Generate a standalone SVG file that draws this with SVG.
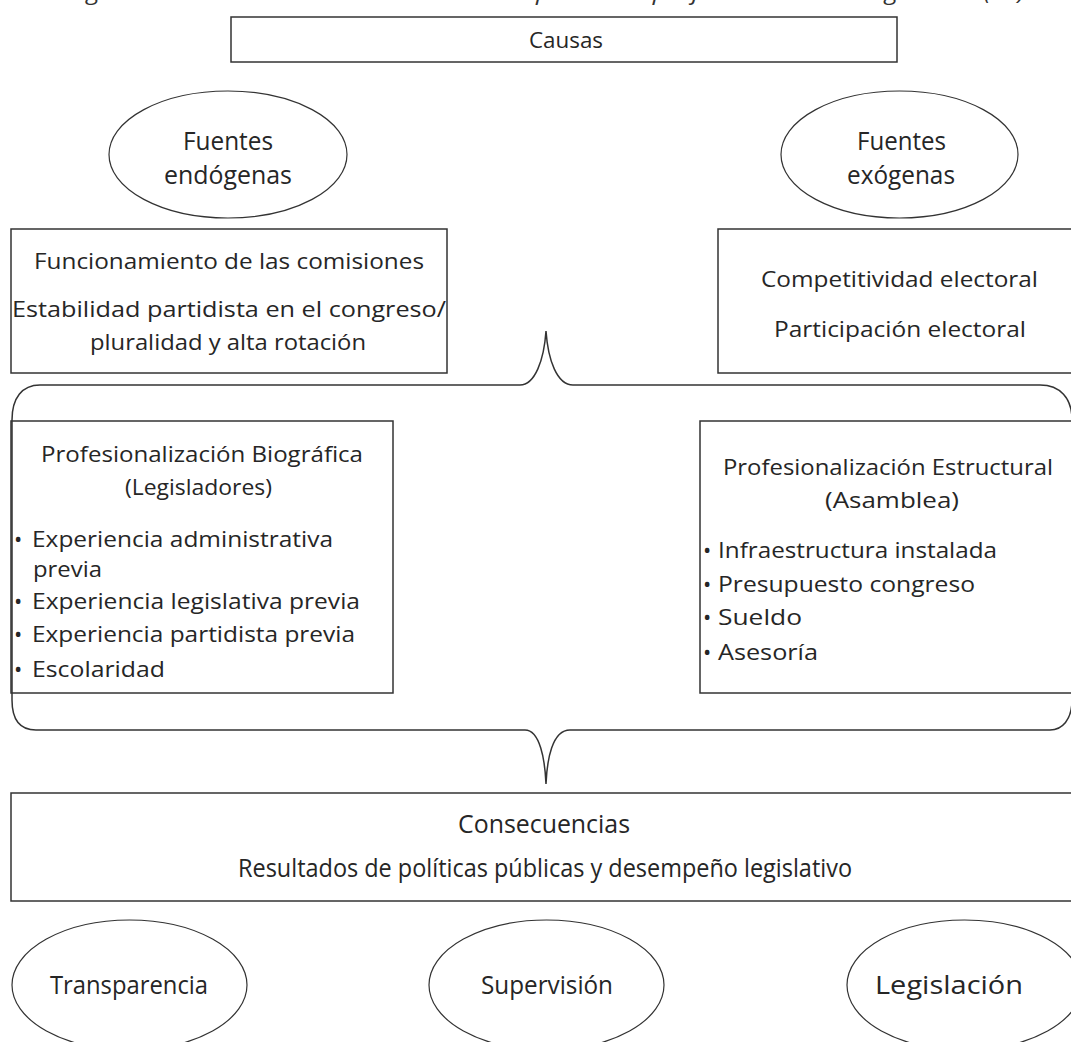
<svg xmlns="http://www.w3.org/2000/svg" width="1071" height="1042" viewBox="0 0 1071 1042">
<style>
.bx{fill:none;stroke:#333;stroke-width:1.5}
.el{fill:none;stroke:#333;stroke-width:1.2}
.br{fill:none;stroke:#333;stroke-width:1.5}
text{font-family:"Open Sans","Noto Sans",sans-serif;font-size:22px;fill:#262626}
.cn{font-size:25px}
.cap{font-style:italic;fill:#333}
</style>
<rect width="1071" height="1042" fill="#fff"/>
<text class="cap" x="68" y="0" textLength="957" lengthAdjust="spacingAndGlyphs">Figura 1. Modelo dinámico de marco compuesto de profesionalización legislativa (PL)</text>

<g id="causas">
<rect class="bx" x="231" y="17" width="666" height="45"/>
<text x="529" y="48" textLength="74" lengthAdjust="spacingAndGlyphs">Causas</text>
</g>

<g id="endogenas">
<ellipse class="el" cx="228" cy="154.5" rx="119" ry="63.5"/>
<text class="cn" x="183" y="150" textLength="90" lengthAdjust="spacingAndGlyphs">Fuentes</text>
<text class="cn" x="164" y="184" textLength="128" lengthAdjust="spacingAndGlyphs">endógenas</text>
</g>

<g id="exogenas">
<ellipse class="el" cx="899.5" cy="154.5" rx="118.5" ry="63.5"/>
<text class="cn" x="857" y="150" textLength="89" lengthAdjust="spacingAndGlyphs">Fuentes</text>
<text class="cn" x="847" y="184" textLength="108" lengthAdjust="spacingAndGlyphs">exógenas</text>
</g>

<g id="fuentes-endogenas-box">
<rect class="bx" x="11" y="229" width="436" height="144"/>
<text x="34" y="269" textLength="390" lengthAdjust="spacingAndGlyphs">Funcionamiento de las comisiones</text>
<text x="12" y="317" textLength="434" lengthAdjust="spacingAndGlyphs">Estabilidad partidista en el congreso/</text>
<text x="90" y="350" textLength="276" lengthAdjust="spacingAndGlyphs">pluralidad y alta rotación</text>
</g>

<g id="fuentes-exogenas-box">
<rect class="bx" x="718" y="229" width="370" height="144"/>
<text x="761" y="287" textLength="277" lengthAdjust="spacingAndGlyphs">Competitividad electoral</text>
<text x="774" y="337" textLength="252" lengthAdjust="spacingAndGlyphs">Participación electoral</text>
</g>

<g id="biografica">
<rect class="bx" x="11" y="421" width="382" height="272"/>
<text x="41" y="462" textLength="322" lengthAdjust="spacingAndGlyphs">Profesionalización Biográfica</text>
<text x="125" y="495" textLength="147" lengthAdjust="spacingAndGlyphs">(Legisladores)</text>
<text y="547"><tspan x="14">•</tspan><tspan x="32" textLength="301" lengthAdjust="spacingAndGlyphs">Experiencia administrativa</tspan></text>
<text x="33" y="577" textLength="69" lengthAdjust="spacingAndGlyphs">previa</text>
<text y="609"><tspan x="14">•</tspan><tspan x="32" textLength="328" lengthAdjust="spacingAndGlyphs">Experiencia legislativa previa</tspan></text>
<text y="642"><tspan x="14">•</tspan><tspan x="32" textLength="323" lengthAdjust="spacingAndGlyphs">Experiencia partidista previa</tspan></text>
<text y="677"><tspan x="14">•</tspan><tspan x="32" textLength="133" lengthAdjust="spacingAndGlyphs">Escolaridad</tspan></text>
</g>

<g id="estructural">
<rect class="bx" x="700" y="421" width="390" height="272"/>
<text x="723" y="475" textLength="330" lengthAdjust="spacingAndGlyphs">Profesionalización Estructural</text>
<text x="825" y="508" textLength="134" lengthAdjust="spacingAndGlyphs">(Asamblea)</text>
<text y="558"><tspan x="703">•</tspan><tspan x="718" textLength="279" lengthAdjust="spacingAndGlyphs">Infraestructura instalada</tspan></text>
<text y="592"><tspan x="703">•</tspan><tspan x="718" textLength="257" lengthAdjust="spacingAndGlyphs">Presupuesto congreso</tspan></text>
<text y="625"><tspan x="703">•</tspan><tspan x="718" textLength="84" lengthAdjust="spacingAndGlyphs">Sueldo</tspan></text>
<text y="660"><tspan x="703">•</tspan><tspan x="718" textLength="100" lengthAdjust="spacingAndGlyphs">Asesoría</tspan></text>
</g>

<g id="consecuencias">
<rect class="bx" x="11" y="793" width="1080" height="108"/>
<text class="cn" x="458" y="833" textLength="172" lengthAdjust="spacingAndGlyphs">Consecuencias</text>
<text class="cn" x="238" y="877" textLength="614" lengthAdjust="spacingAndGlyphs">Resultados de políticas públicas y desempeño legislativo</text>
</g>

<g id="transparencia">
<ellipse class="el" cx="129.5" cy="985" rx="117.5" ry="65"/>
<text class="cn" x="50" y="994" textLength="158" lengthAdjust="spacingAndGlyphs">Transparencia</text>
</g>
<g id="supervision">
<ellipse class="el" cx="546.5" cy="985" rx="117.5" ry="65"/>
<text class="cn" x="481" y="994" textLength="132" lengthAdjust="spacingAndGlyphs">Supervisión</text>
</g>
<g id="legislacion">
<ellipse class="el" cx="964.5" cy="985" rx="117.5" ry="65"/>
<text class="cn" x="875" y="994" textLength="148" lengthAdjust="spacingAndGlyphs">Legislación</text>
</g>

<g id="connectors">
<path class="br" d="M12,700 L12,420 C12,398 22,385 40,385 L520,385 C535,385 544,360 546,331 C548,360 557,385 573,385 L1040,385 C1060,385 1072,398 1072,420 L1072,700"/>
<path class="br" d="M12,700 C12,720 20,730 36,730 L525,730 C540,730 545,760 546,784 C547,760 552,730 570,730 L1050,730 C1062,730 1072,720 1072,700"/>
</g>
</svg>
